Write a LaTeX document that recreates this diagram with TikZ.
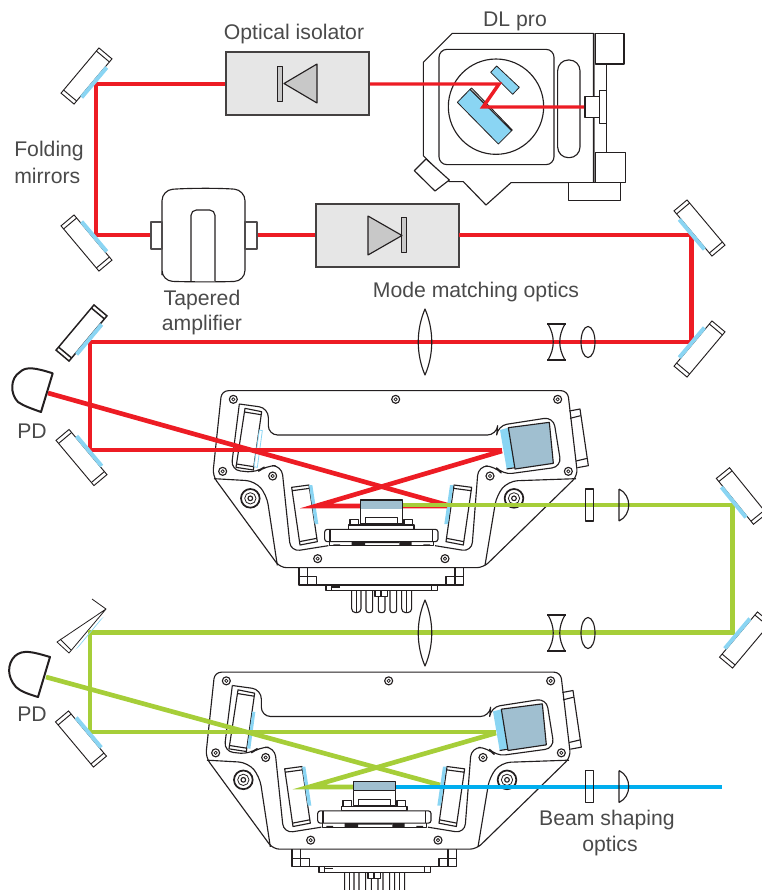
\documentclass[tikz,border=0pt]{standalone}
\usepackage{fontspec}
\setmainfont{Liberation Sans}
\definecolor{laserred}{HTML}{ED1C24}
\definecolor{lasergreen}{HTML}{A6CE39}
\definecolor{laserblue}{HTML}{00AEEF}
\definecolor{coat}{HTML}{8AD5F3}
\definecolor{steelb}{HTML}{A0BFD0}
\definecolor{boxgrey}{HTML}{E6E6E6}
\definecolor{trigrey}{HTML}{C8C8C8}
\definecolor{textgrey}{HTML}{4A4A4A}
\definecolor{ink}{HTML}{231F20}
\tikzset{
  thinline/.style={draw=ink,line width=0.6pt,line join=round},
  medline/.style={draw=ink,line width=0.85pt,line join=round},
  boxline/.style={draw=ink!85,fill=boxgrey,line width=1.1pt},
  redthin/.style={draw=laserred,line width=2.6pt,line join=miter},
  redbeam/.style={draw=laserred,line width=3.5pt,line join=miter},
  greenbeam/.style={draw=lasergreen,line width=3.5pt,line join=miter},
  bluebeam/.style={draw=laserblue,line width=3.5pt},
  txt/.style={text=textgrey,font=\fontsize{15.9pt}{18pt}\selectfont,inner sep=0pt},
  pdline/.style={draw=ink,line width=1.5pt,line join=round,line cap=round},
}
\newcommand{\mirrorbody}[4]{% x y angle linewidth
  \begin{scope}[shift={(#1,#2)},rotate=#3]
    \draw[draw=ink,line width=#4,fill=white] (-29.5,-8.5) rectangle (29.5,8.5);
    \draw[draw=ink,line width=#4] (-25.5,-8.5) -- (-25.5,8.5) (25.5,-8.5) -- (25.5,8.5);
  \end{scope}}
\newcommand{\mirrorcoat}[3]{%
  \begin{scope}[shift={(#1,#2)},rotate=#3]
    \fill[coat] (-19.5,8) rectangle (19.5,12);
  \end{scope}}
\newcommand{\screwhead}[2]{%
  \draw[medline] (#1,#2) circle[radius=12];
  \draw[thinline] (#1,#2) circle[radius=5];}
\newcommand{\bigscrew}[2]{%
  \draw[draw=ink,line width=1.3pt] (#1,#2) circle[radius=28];
  \draw[thinline] (#1,#2) circle[radius=17];
  \draw[medline] (#1,#2) circle[radius=7];}
\newcommand{\cavitybody}[3]{% dx dy coat style
  \begin{scope}[shift={({200+#1},{380+#2})},x=.25pt,y=-.25pt]
    % housing
    \draw[medline,rounded corners=5pt] (65,32) -- (1103,32) -- (1133,287) -- (850,563) -- (240,563) -- (38,287) -- cycle;
    \draw[medline,rounded corners=7pt] (42,296) -- (165,303) -- (200,345) -- (232,556);
    \draw[medline,rounded corners=7pt] (1128,296) -- (925,303) -- (890,345) -- (855,556);
    % tab
    \draw[medline] (1108,93) -- (1140,87) -- (1165,257) -- (1132,263);
    \draw[medline] (1110,115) -- (1142,107) (1128,243) -- (1162,235);
    % inner contour
    \draw[medline,rounded corners=7pt] (118,72) -- (205,84) -- (205,165) -- (890,165) -- (893,137) -- (1060,111) -- (1084,260) -- (908,284) -- (885,258) -- (835,258) -- (815,515) -- (705,497);
    \draw[medline,rounded corners=7pt] (118,72) -- (93,270) -- (170,278) -- (198,257) -- (245,257) -- (272,515) -- (385,497);
    % mirrors
    \draw[medline] (135,85) -- (185,95) -- (160,270) -- (108,262) -- cycle (133,96) -- (183,104) (110,252) -- (161,260);
    \draw[#3] (178,150) -- (187,152) -- (172,262) -- (162,260) -- cycle;
    \draw[medline,fill=white] (275,322) -- (327,315) -- (352,485) -- (300,495) -- cycle (277,332) -- (329,325) (298,485) -- (350,475);
    \fill[coat] (327,315) -- (337,315) -- (355,432) -- (344,432) -- cycle;
    \draw[medline,fill=white] (762,315) -- (815,322) -- (790,495) -- (738,485) -- cycle (760,325) -- (813,332) (740,475) -- (792,485);
    \fill[coat] (750,315) -- (760,315) -- (744,432) -- (733,432) -- cycle;
    % large mirror
    \fill[coat] (900,150) -- (925,143) -- (945,260) -- (920,267) -- cycle;
    \draw[medline,fill=steelb] (925,143) -- (1048,127) -- (1060,250) -- (945,267) -- cycle;
    \draw[medline] (920,267) -- (945,263);
    % screws
    \screwhead{100}{58}\screwhead{587}{58}\screwhead{1073}{58}
    \screwhead{68}{274}\screwhead{218}{288}\screwhead{870}{288}\screwhead{1105}{274}
    \screwhead{353}{536}\screwhead{735}{536}
    \bigscrew{151}{355}\bigscrew{942}{355}
    % mount
    \draw[medline] (297,563) -- (297,615) -- (790,615) -- (790,563);
    \draw[medline] (297,590) -- (350,590) -- (350,615) (323,563) -- (323,615);
    \draw[medline] (790,590) -- (738,590) -- (738,615) (765,563) -- (765,615);
    \draw[medline] (378,615) -- (378,632) -- (712,632) -- (712,615) (395,615) -- (395,632) (695,615) -- (695,632);
    \fill[ink] (395,619) rectangle (420,623);
    % pins
    \draw[medline,rounded corners=3pt] (455,633) -- (455,698) -- (483,698) -- (483,633);
    \draw[medline] (470,633) -- (470,698);
    \draw[medline,rounded corners=2pt] (498,633) -- (498,698) -- (518,698) -- (518,633);
    \draw[medline,rounded corners=2pt] (535,650) -- (535,698) -- (555,698) -- (555,650);
    \draw[medline] (525,633) -- (525,650) -- (562,650) -- (562,633) (543,633) -- (543,650);
    \draw[medline,rounded corners=2pt] (570,633) -- (570,698) -- (590,698) -- (590,633);
    \draw[medline,rounded corners=3pt] (605,633) -- (605,698) -- (635,698) -- (635,633);
    \draw[medline] (620,633) -- (620,698);
  \end{scope}}
\newcommand{\cavitychip}[2]{%
  \begin{scope}[shift={({200+#1},{380+#2})},x=.25pt,y=-.25pt]
    \draw[medline,fill=steelb] (482,360) rectangle (607,388);
    \draw[medline,fill=white] (482,388) -- (482,432) -- (607,432) -- (607,388);
    \draw[medline] (497,432) -- (497,413) -- (592,413) -- (592,432);
    \draw[medline,fill=white] (450,418) rectangle (475,435);
    \draw[medline,fill=white] (612,418) rectangle (637,435);
    \draw[medline,fill=white] (446,435) rectangle (642,448);
    \draw[medline,fill=white,rounded corners=2pt] (374,448) rectangle (714,485);
    \draw[medline] (390,448) -- (390,485) (697,448) -- (697,485);
    \draw[medline] (388,485) -- (388,497) -- (700,497) -- (700,485);
    \fill[ink] (455,485) rectangle (495,497) (598,485) rectangle (635,497);
    \fill[ink] (495,485) rectangle (598,489) (400,493) rectangle (420,497) (670,493) rectangle (690,497);
  \end{scope}}
\newcommand{\bilens}[2]{%
  \draw[medline] ({#1-9.5},{#2-18}) -- ({#1+9.5},{#2-18}) ({#1-9.5},{#2+18}) -- ({#1+9.5},{#2+18});
  \draw[medline] ({#1-8.5},{#2-18}) .. controls ({#1-1.5},{#2-6}) and ({#1-1.5},{#2+6}) .. ({#1-8.5},{#2+18});
  \draw[medline] ({#1+8.5},{#2-18}) .. controls ({#1+1.5},{#2-6}) and ({#1+1.5},{#2+6}) .. ({#1+8.5},{#2+18});}
\newcommand{\biconvex}[2]{\draw[medline] (#1,#2) ellipse[x radius=7,y radius=15.5];}
\newcommand{\biglens}[2]{%
  \draw[medline] (#1,{#2-33}) .. controls ({#1+9},{#2-12}) and ({#1+9},{#2+12}) .. (#1,{#2+33})
    .. controls ({#1-9},{#2+12}) and ({#1-9},{#2-12}) .. (#1,{#2-33}) -- cycle;}
\newcommand{\shapeoptics}[2]{%
  \draw[medline] (585.5,{#2-16}) rectangle (593.7,{#2+16});
  \draw[medline] (619,{#2-16}) -- (619,{#2+16}) (619,{#2+16}) .. controls (632,{#2+10}) and (632,{#2-10}) .. (619,{#2-16});}
\begin{document}
\begin{tikzpicture}[x=.75pt,y=-.75pt]
\useasboundingbox (0,0) rectangle (762,890);
\clip (0,0) rectangle (762,890);

% ---- DL pro
\begin{scope}[shift={(400,0)},x=.25pt,y=-.25pt]
  \draw[medline] (157,100) -- (580,100) -- (580,548) -- (333,548) -- (258,615) -- (190,545) -- (148,545) -- (70,467) -- (70,187) -- cycle;
  \draw[medline,rounded corners=6pt] (117,148) rectangle (462,494);
  \draw[medline] (288,320) circle[radius=143];
  \draw[medline,rounded corners=8pt] (473,180) rectangle (540,473);
  \draw[thinline,draw=ink!60] (584,100) -- (584,548);
  \draw[medline,fill=white] (586,100) rectangle (672,192);
  \draw[medline,fill=white] (586,458) rectangle (677,548);
  \draw[medline,fill=white] (505,548) rectangle (661,601);
  \draw[medline] (619,192) -- (619,458);
  \draw[medline,fill=white] (555,289) rectangle (600,352);
  \draw[medline,fill=white] (598,271) rectangle (619,370);
  \draw[medline,fill=white] (78,477) -- (148,540) -- (105,573) -- (43,512) -- cycle;
  \draw[thinline,fill=coat] (210,268) -- (335,392) -- (295,432) -- (172,307) -- cycle;
  \draw[thinline,fill=gray!60] (210,268) -- (215,264) -- (337,390) -- (335,392) -- cycle;
  \draw[thinline,fill=coat] (290,198) -- (358,262) -- (338,283) -- (272,217) -- cycle;
\end{scope}
\draw[redthin] (584,107) -- (483,107) -- (499,84) -- (369,84);

% ---- red path: isolator, folding mirrors, TA
\mirrorbody{86.5}{76}{50}{0.7pt}
\mirrorbody{86.5}{243}{130}{0.7pt}
\draw[redthin] (226,84) -- (96,84) -- (96,235) -- (151,235);
\draw[redbeam] (257,235) -- (316,235);
\mirrorcoat{86.5}{76}{50}
\mirrorcoat{86.5}{243}{130}

\draw[boxline] (226,52) rectangle (369,115);
\draw[thinline,fill=trigrey] (277.5,66) rectangle (282.5,101);
\draw[medline,fill=trigrey] (284,83.5) -- (317,64) -- (317,103) -- cycle;
\draw[boxline] (316,204) rectangle (459,267);
\draw[thinline,fill=trigrey] (401.5,217) rectangle (406.5,252);
\draw[medline,fill=trigrey] (368,216) -- (368,255) -- (402,235.5) -- cycle;

% TA
\draw[medline,rounded corners=8pt] (162,281) -- (162,190) .. controls (190,188) and (220,188) .. (245,190) -- (245,281) .. controls (220,282) and (190,282) .. cycle;
\draw[medline,rounded corners=4pt] (191,281) -- (191,210) -- (215,210) -- (215,281);
\draw[medline,draw=ink!80] (151,222) rectangle (162,249);
\draw[medline,draw=ink!80] (245,222) rectangle (257,249);

% ---- red long path
\mirrorbody{699.5}{228}{-50}{0.7pt}
\mirrorbody{699.5}{349}{230}{0.7pt}
\mirrorbody{81.5}{333}{50}{1.1pt}
\mirrorbody{81.5}{457.5}{130}{0.7pt}
\cavitybody{0}{0}{draw=coat,fill=white,line width=0.6pt}
\draw[redbeam] (459,235) -- (691.5,235) -- (691.5,342) -- (90,342) -- (90,450) -- (502,450);
\draw[redbeam] (502,451) -- (316,506) -- (447,506);
\draw[redbeam] (48,393) -- (447,505);
\mirrorcoat{699.5}{228}{-50}
\mirrorcoat{699.5}{349}{230}
\mirrorcoat{81.5}{333}{50}
\mirrorcoat{81.5}{457.5}{130}
\biglens{425}{342}
\bilens{556.5}{342}
\biconvex{588}{342}

% ---- green path
\mirrorbody{741.5}{496}{-51}{0.7pt}
\mirrorbody{745}{640}{230}{0.7pt}
\mirrorbody{81}{739}{130}{0.7pt}
% folded mirror drawn in perspective
\draw[thinline,fill=white] (106,609) -- (57,642) -- (69,653) -- cycle;
\draw[thinline] (92,599) -- (106,609) (60,639) -- (71,650);
\cavitybody{-7}{281.5}{draw=none,fill=coat}
\draw[greenbeam] (402,505) -- (732.5,505) -- (732.5,632.5) -- (90,632.5) -- (90,732) -- (496,732);
\draw[greenbeam] (496,733) -- (309,787) -- (354,787);
\draw[greenbeam] (46,677) -- (440,785);
\draw[bluebeam] (395,787) -- (722,787);
\mirrorcoat{741.5}{496}{-51}
\mirrorcoat{745}{640}{230}
\mirrorcoat{81}{739}{130}
\fill[coat] (103.5,617) -- (100.5,619.5) -- (75.5,649.5) -- (78.5,647) -- cycle;
\biglens{425}{633}
\bilens{556.5}{633}
\biconvex{588}{633}
\shapeoptics{0}{505}
\shapeoptics{0}{786.5}
\cavitychip{0}{0}
\cavitychip{-7}{281.5}

% ---- photodiodes
\draw[pdline] (52.7,373.3) -- (41,412) .. controls (30,408) and (24,406) .. (18,402) .. controls (10,394) and (10,378) .. (20,372) .. controls (26,366) and (36,368) .. cycle;
\draw[pdline] (50,657) -- (38,697) .. controls (28,694) and (20,691) .. (16,687) .. controls (7,677) and (7,664) .. (15,656) .. controls (23,649) and (33,652) .. cycle;

% ---- labels
\node[txt] (isol) at (294,34) {Optical isolator};
\node[txt] (dlpro) at (515,21) {DL pro};
\node[txt,anchor=west] (fold1) at (14,151) {Folding};
\node[txt,anchor=west] (fold2) at (14,176) {mirrors};
\node[txt] (ta1) at (202,300) {Tapered};
\node[txt] (ta2) at (202,325) {amplifier};
\node[txt] (mode) at (476,292) {Mode matching optics};
\node[txt] (pd1) at (32,431) {PD};
\node[txt] (pd2) at (32,714) {PD};
\node[txt] (beam1) at (607,820) {Beam shaping};
\node[txt] (beam2) at (610,846) {optics};
\end{tikzpicture}
\end{document}
